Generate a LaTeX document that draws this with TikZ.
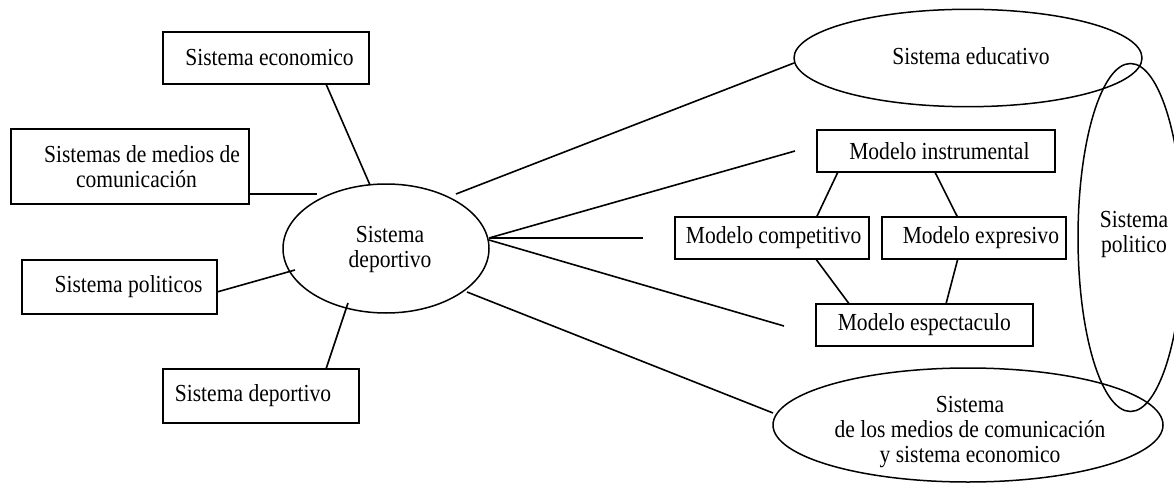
\documentclass[tikz,border=0pt]{standalone}
\usepackage{fontspec}
\setmainfont{Liberation Serif}[FakeStretch=0.88]
\usetikzlibrary{shapes.geometric}
\tikzset{
  every node/.style={font=\fontsize{24.5pt}{24.7pt}\selectfont},
  box/.style={draw, line width=1.8pt, rectangle, inner sep=0pt, outer sep=0pt},
  oval/.style={draw, line width=1.5pt, ellipse, inner sep=0pt, outer sep=0pt},
  txt/.style={inner sep=0pt, align=center},
  link/.style={line width=1.6pt},
}
\begin{document}
\begin{tikzpicture}[x=1pt, y=-1pt]
\useasboundingbox (0,0) rectangle (1174,484);

% left boxes
\node[box, minimum width=206pt, minimum height=52pt] (eco) at (266,58) {\hspace*{7pt}Sistema economico};
\node[box, minimum width=238pt, minimum height=75pt, align=center] (med) at (130,166.5) {\hspace*{24pt}Sistemas de medios de\\\hspace*{13pt}comunicación};
\node[box, minimum width=195pt, minimum height=54pt] (pol) at (119.5,287) {\hspace*{18pt}Sistema politicos};
\node[box, minimum width=196pt, minimum height=54pt] (dep) at (261,396) {Sistema deportivo\hspace*{16pt}};

% central ellipse
\node[oval, minimum width=206pt, minimum height=129pt] (cen) at (386,248.5) {};
\node[txt] (centxt) at (390,249.8) {Sistema\\deportivo};

% right ellipses
\node[oval, minimum width=105pt, minimum height=348pt] (polit) at (1130.5,237.5) {};
\node[txt] (polittxt) at (1134,234.4) {Sistema\\politico};
\node[oval, minimum width=348pt, minimum height=97.4pt] (edu) at (968,58) {};
\node[txt] (edutxt) at (971,56.6) {Sistema educativo};
\node[oval, minimum width=390pt, minimum height=114pt] (mce) at (968,425) {};
\node[txt] (mcetxt) at (970,431.9) {Sistema\\de los medios de comunicación\\y sistema economico};

% model boxes
\node[box, minimum width=238.3pt, minimum height=42.3pt] (ins) at (935.9,151.2) {\hspace*{7pt}Modelo instrumental};
\node[box, minimum width=194.3pt, minimum height=42.6pt] (com) at (772.2,238) {\hspace*{3pt}Modelo competitivo};
\node[box, minimum width=184.3pt, minimum height=42.3pt] (exp) at (973.9,237.9) {\hspace*{14pt}Modelo expresivo};
\node[box, minimum width=216.7pt, minimum height=42pt] (esp) at (924.3,325) {Modelo espectaculo};

% free ends
\coordinate (cEco) at (370,185);
\coordinate (cMed) at (317,194);
\coordinate (cPol) at (295,270);
\coordinate (cDep) at (348,303);
\coordinate (cEdu) at (456,194);
\coordinate (hub) at (489,238);
\coordinate (hub2) at (489,240);
\coordinate (cIns) at (795,151);
\coordinate (cCom) at (643,238);
\coordinate (cEsp) at (784,326);
\coordinate (cMceA) at (467,292);
\coordinate (cMceB) at (773,413);

% left connectors
\draw[link] ([xshift=163pt]eco.south west) -- (cEco);
\draw[link] ([yshift=10pt]med.south east) -- (cMed);
\draw[link] ([yshift=-5pt]pol.east) -- (cPol);
\draw[link] ([xshift=163pt]dep.north west) -- (cDep);

% right connectors
\draw[link] (cEdu) -- ([yshift=-5pt]edu.west);
\draw[link] (hub) -- (cIns);
\draw[link] (hub) -- (cCom);
\draw[link] (hub2) -- (cEsp);
\draw[link] (cMceA) -- (cMceB);

% model connectors
\draw[link] ([xshift=21pt]ins.south west) -- ([xshift=141.7pt]com.north west);
\draw[link] ([xshift=118.3pt]ins.south west) -- ([xshift=75.6pt]exp.north west);
\draw[link] ([xshift=141pt]com.south west) -- ([xshift=33.3pt]esp.north west);
\draw[link] ([xshift=76pt]exp.south west) -- ([xshift=130pt]esp.north west);
\end{tikzpicture}
\end{document}
